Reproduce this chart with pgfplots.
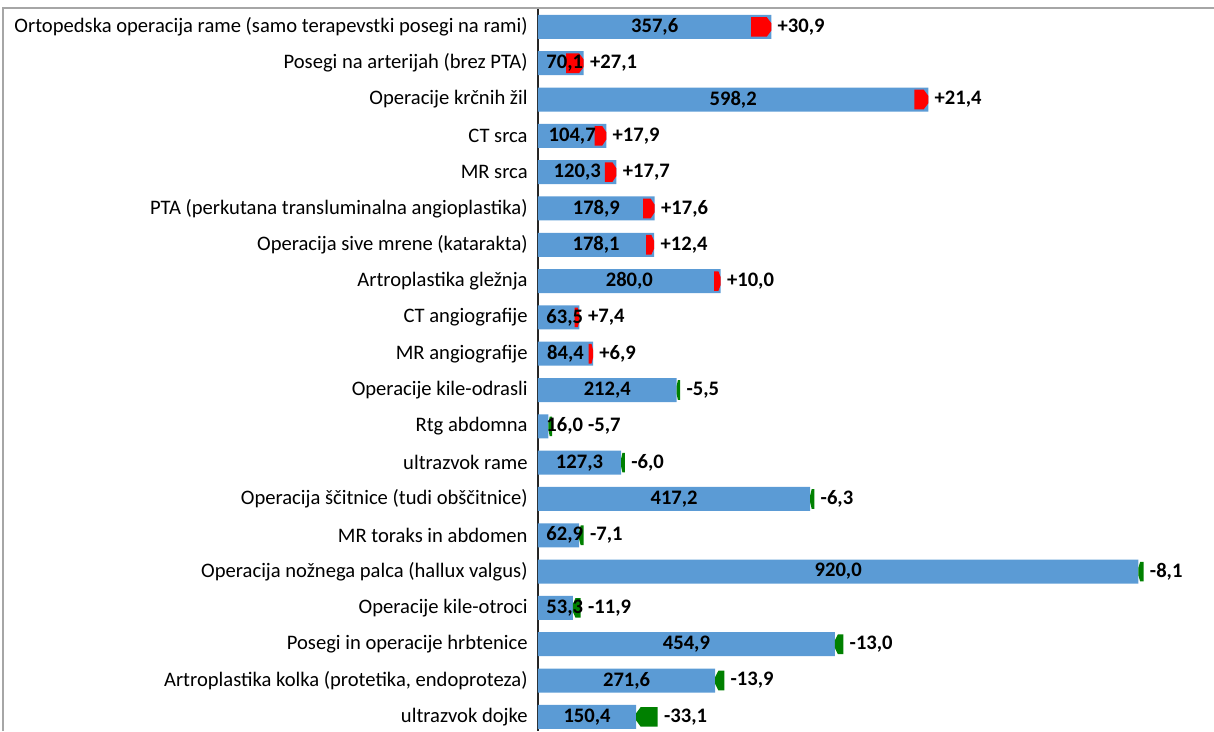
\documentclass[border=0pt]{standalone}
\usepackage{pgfplots}
\pgfplotsset{compat=1.18}
\usepackage{pgfplotstable}
\usepackage{fontspec}
\setmainfont{Carlito}
\definecolor{barblue}{HTML}{5B9BD5}
\definecolor{upred}{HTML}{FF0000}
\definecolor{downgreen}{HTML}{008000}
\definecolor{framegray}{HTML}{A6A6A6}

\pgfplotstableread{
idx val chg
0 357.6 30.9
1 70.1 27.1
2 598.2 21.4
3 104.7 17.9
4 120.3 17.7
5 178.9 17.6
6 178.1 12.4
7 280.0 10.0
8 63.5 7.4
9 84.4 6.9
10 212.4 -5.5
11 16.0 -5.7
12 127.3 -6.0
13 417.2 -6.3
14 62.9 -7.1
15 920.0 -8.1
16 53.3 -11.9
17 454.9 -13.0
18 271.6 -13.9
19 150.4 -33.1
}\datatable

\begin{document}
\begin{tikzpicture}
\begin{axis}[
  scale only axis, width=338pt, height=361.5pt,
  xmin=0, xmax=1036, ymin=-0.52, ymax=19.39, y dir=reverse,
  axis x line=none, axis y line*=left,
  axis line style={black!85, line width=0.9pt},
  ytick={0,...,19},
  yticklabels={
    Ortopedska operacija rame (samo terapevstki posegi na rami),
    Posegi na arterijah (brez PTA),
    Operacije krčnih žil,
    CT srca,
    MR srca,
    PTA (perkutana transluminalna angioplastika),
    Operacija sive mrene (katarakta),
    Artroplastika gležnja,
    CT angiografije,
    MR angiografije,
    Operacije kile-odrasli,
    Rtg abdomna,
    ultrazvok rame,
    Operacija ščitnice (tudi obščitnice),
    MR toraks in abdomen,
    Operacija nožnega palca (hallux valgus),
    Operacije kile-otroci,
    Posegi in operacije hrbtenice,
    {Artroplastika kolka (protetika, endoproteza)},
    ultrazvok dojke},
  major tick length=0pt,
  yticklabel style={font=\fontsize{10.3}{12}\selectfont, inner sep=0pt, xshift=-5pt},
  clip=false,
  /pgf/number format/fixed,
  /pgf/number format/fixed zerofill,
  /pgf/number format/precision=1,
  /pgf/number format/use comma,
  /pgf/number format/assume math mode=true,
]
\coordinate (SW) at (axis description cs:0,0);
\coordinate (NE) at (axis description cs:1,1);

% bars
\addplot[xbar, bar width=0.66, fill=barblue, draw=none] table[x=val, y=idx]{\datatable};

% change arrows
\pgfplotsinvokeforeach{0,...,19}{
  \pgfplotstablegetelem{#1}{val}\of\datatable \let\myv\pgfplotsretval
  \pgfplotstablegetelem{#1}{chg}\of\datatable \let\myc\pgfplotsretval
  \pgfmathsetmacro{\myxa}{\myv-\myc}
  \pgfmathsetmacro{\mytip}{min(7,0.35*abs(\myc))}
  \pgfmathsetmacro{\myxb}{\myc>0 ? \myv-\mytip : \myv+\mytip}
  \pgfmathsetmacro{\ylo}{#1-0.27}
  \pgfmathsetmacro{\yhi}{#1+0.27}
  \pgfmathsetmacro{\ymlo}{#1-0.1}
  \pgfmathsetmacro{\ymhi}{#1+0.1}
  \edef\temp{\noexpand\addplot[fill=\ifdim\myc pt>0pt upred\else downgreen\fi, draw=none]
    coordinates {(\myxa,\ylo) (\myxb,\ylo) (\myv,\ymlo) (\myv,\ymhi) (\myxb,\yhi) (\myxa,\yhi)};}
  \temp
}

% value labels
\addplot[draw=none, mark=none, point meta=explicit,
  nodes near coords, nodes near coords align={center},
  every node near coord/.append style={anchor=center, inner sep=0pt,
    font=\fontsize{10.3}{12}\selectfont\bfseries, text=black}]
  table[x expr={max(\thisrow{val}/2,41)}, y=idx, meta=val]{\datatable};

% change labels
\addplot[draw=none, mark=none, point meta=explicit,
  nodes near coords, nodes near coords align={center},
  every node near coord/.append style={anchor=west, inner sep=0pt, xshift=3pt,
    font=\fontsize{10.3}{12}\selectfont\bfseries, text=black,
    /pgf/number format/showpos}]
  table[x expr={max(\thisrow{val}, \thisrow{val}-\thisrow{chg}, max(\thisrow{val}/2,41)+26)}, y=idx, meta=chg]{\datatable};
\end{axis}
\pgfresetboundingbox
\useasboundingbox ([xshift=-269pt]SW) rectangle ([yshift=4pt]NE);
\coordinate (L) at ([xshift=-267.5pt]SW);
\draw[framegray, line width=0.75pt] (L) -- (L |- NE) -- (NE);
\end{tikzpicture}
\end{document}
